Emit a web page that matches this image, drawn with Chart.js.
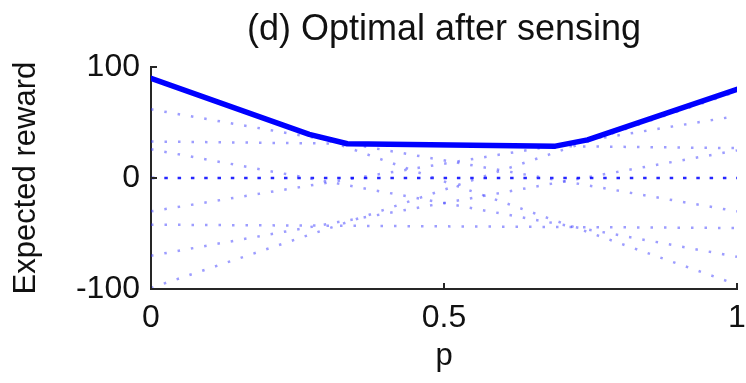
<!DOCTYPE html>
<html>
<head>
<meta charset="utf-8">
<script src="https://cdn.jsdelivr.net/npm/chart.js@4.4.1/dist/chart.umd.min.js"></script>
<style>
  html, body { margin: 0; padding: 0; background: #fff; }
  #wrap { width: 746px; height: 383px; position: relative; }
</style>
</head>
<body>
<div id="wrap"><canvas id="chart"></canvas></div>
<script>
// x range of the belief p
var pEnds = [0, 1];
// dotted lines: expected reward of each action at p = 0 and p = 1
var rewardAtP0 = [90, 62, 33, 26, 0, -30, -42, -70, -99];
var rewardAtP1 = [-96, -30, 27, -71, 0, 56, -45, 25, 78];
// thick line: optimal expected reward after sensing
var optimalP = [0, 0.27, 0.335, 0.69, 0.745, 1];
var optimalReward = [90, 39.5, 31, 28.8, 34.5, 80];
// axis ticks
var xTicks = [0, 0.5, 1];
var yTicks = [-100, 0, 100];

var axisColor = '#262626';
var fontFam = '"Liberation Sans", Arial, sans-serif';

var datasets = [];
datasets.push({
	label: 'optimal',
	data: optimalP.map(function(p, i){ return {x: p, y: optimalReward[i]}; }),
	borderColor: '#0000ff',
	borderWidth: 5.5,
	pointRadius: 0,
	borderJoinStyle: 'round',
	borderCapStyle: 'round',
	order: 0
});
rewardAtP0.forEach(function(v0, i){
	var zero = (v0 === 0 && rewardAtP1[i] === 0);
	datasets.push({
		label: 'action ' + i,
		data: [{x: pEnds[0], y: v0}, {x: pEnds[1], y: rewardAtP1[i]}],
		borderColor: zero ? 'rgba(0,0,255,0.85)' : 'rgba(60,60,255,0.5)',
		borderWidth: 2.5,
		borderDash: zero ? [3.5, 9.8] : [2.5, 11],
		pointRadius: 0,
		order: 1
	});
});

// MATLAB-like inward tick marks
var inwardTicks = {
	id: 'inwardTicks',
	afterDraw: function(chart){
		var ctx = chart.ctx, xs = chart.scales.x, ys = chart.scales.y;
		var a = chart.chartArea;
		ctx.save();
		ctx.strokeStyle = axisColor;
		ctx.lineWidth = 2;
		ctx.beginPath();
		xs.ticks.forEach(function(t){
			var px = Math.round(xs.getPixelForValue(t.value));
			ctx.moveTo(px, a.bottom);
			ctx.lineTo(px, a.bottom - 6);
		});
		ys.ticks.forEach(function(t){
			var py = Math.round(ys.getPixelForValue(t.value));
			ctx.moveTo(a.left, py);
			ctx.lineTo(a.left + 6, py);
		});
		ctx.stroke();
		ctx.restore();
	}
};

new Chart(document.getElementById('chart'), {
	type: 'line',
	data: { datasets: datasets },
	plugins: [inwardTicks],
	options: {
		responsive: true,
		maintainAspectRatio: false,
		animation: false,
		layout: { padding: { left: 0, right: 0, top: 0, bottom: 0 } },
		plugins: {
			legend: { display: false },
			tooltip: { enabled: false },
			title: {
				display: true,
				fullSize: false,
				text: '(d) Optimal after sensing',
				color: '#111',
				font: { family: fontFam, size: 36, weight: 'normal' },
				padding: { top: 8, bottom: 16 }
			}
		},
		scales: {
			x: {
				type: 'linear',
				min: 0, max: 1,
				afterBuildTicks: function(s){ s.ticks = xTicks.map(function(v){ return {value: v}; }); },
				afterFit: function(s){ s.height = 94; s.paddingRight = 9; },
				grid: { display: false, drawTicks: false },
				border: { display: true, color: axisColor, width: 2 },
				ticks: {
					color: '#111',
					padding: 10,
					maxRotation: 0,
					font: { family: fontFam, size: 32 },
					callback: function(v){ return String(v); }
				},
				title: {
					display: true,
					text: 'p',
					color: '#111',
					font: { family: fontFam, size: 31 },
					padding: { top: 0, bottom: 8 }
				}
			},
			y: {
				type: 'linear',
				min: -100, max: 100,
				afterBuildTicks: function(s){ s.ticks = yTicks.map(function(v){ return {value: v}; }); },
				afterFit: function(s){ s.width = 151; },
				grid: { display: false, drawTicks: false },
				border: { display: true, color: axisColor, width: 2 },
				ticks: {
					color: '#111',
					padding: 11,
					font: { family: fontFam, size: 32 },
					callback: function(v){ return String(v); }
				},
				title: {
					display: true,
					text: 'Expected reward',
					color: '#111',
					font: { family: fontFam, size: 31 },
					padding: { top: 8, bottom: 0 }
				}
			}
		}
	}
});
</script>
</body>
</html>
